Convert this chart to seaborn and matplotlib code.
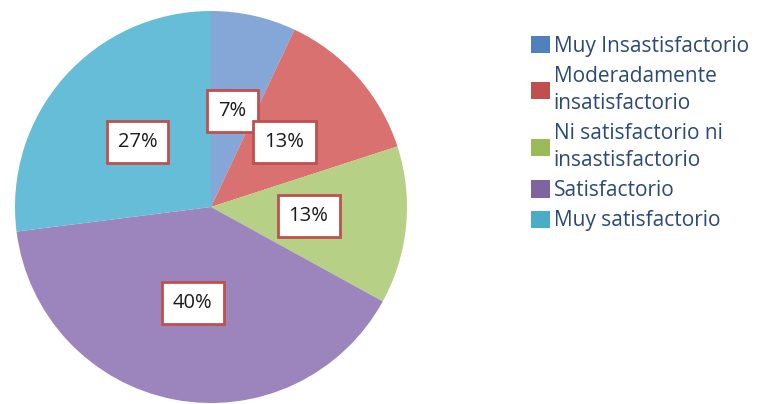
import matplotlib
matplotlib.use("Agg")
import matplotlib.pyplot as plt
from matplotlib.patches import Patch
import seaborn as sns

categorias = ["Muy Insastisfactorio", "Moderadamente\ninsatisfactorio",
              "Ni satisfactorio ni\ninsastisfactorio", "Satisfactorio", "Muy satisfactorio"]
porcentajes = [7, 13, 13, 40, 27]
colores_pie = ["#85a7d8", "#d8716f", "#b6d086", "#9c84bd", "#66bdd7"]
colores_leyenda = ["#4f81bd", "#c0504d", "#9bbb59", "#8064a2", "#4bacc6"]

sns.set_style("white")
plt.rcParams['font.family'] = ['Open Sans', 'DejaVu Sans']

fig = plt.figure(figsize=(7.63, 4.04), dpi=100, facecolor="white")
ax = fig.add_axes([15 / 763, 1 / 404, 392 / 763, 392 / 404])

wedges, textos, autotextos = ax.pie(
    porcentajes,
    colors=colores_pie,
    startangle=90,
    counterclock=False,
    autopct=lambda p: f"{p:.0f}%",
    pctdistance=0.5,
    wedgeprops=dict(linewidth=0),
    textprops=dict(fontsize=14.5, color="#1a1a1a"),
)
for t in autotextos:
    t.set_bbox(dict(facecolor="white", edgecolor="#c0504d", linewidth=2,
                    boxstyle="square,pad=0.55"))
ax.set_xlim(-1, 1)
ax.set_ylim(-1, 1)
ax.set_aspect("equal")
ax.axis("off")

handles = [Patch(facecolor=c, edgecolor="none") for c in colores_leyenda]
leg = fig.legend(handles, categorias, loc="upper left",
                 bbox_to_anchor=(512 / 763, 1 - 17 / 404),
                 frameon=False, fontsize=15, handlelength=0.9, handleheight=0.9,
                 handletextpad=0.2, labelspacing=0.45)
for t in leg.get_texts():
    t.set_color("#2b4a78")
    t.set_linespacing(1.35)

fig.savefig("out.png", dpi=100)
